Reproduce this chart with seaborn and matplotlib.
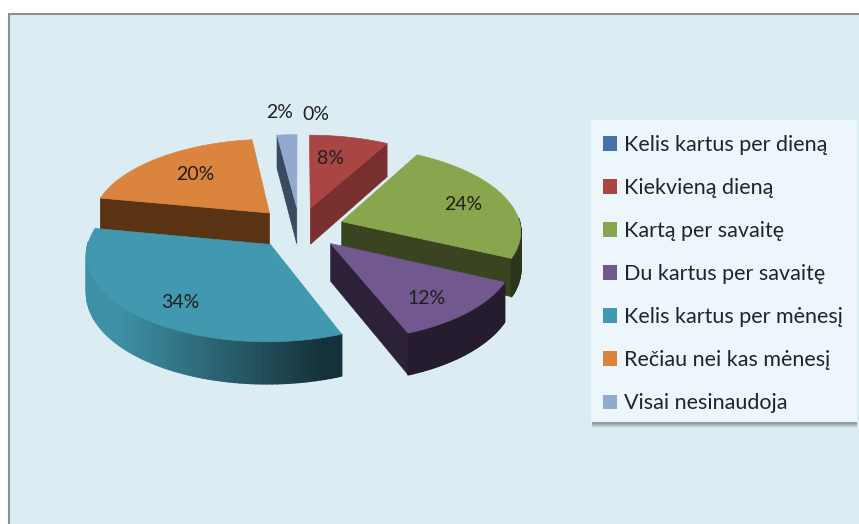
#!/usr/bin/env python3
"""Exploded 3D style pie chart with a side legend."""

import numpy as np
import matplotlib
matplotlib.use('Agg')
import matplotlib.pyplot as plt
import seaborn as sns
from matplotlib.patches import Patch, Rectangle, Polygon
from matplotlib.collections import PolyCollection

categories = ['Kelis kartus per dieną', 'Kiekvieną dieną', 'Kartą per savaitę',
              'Du kartus per savaitę', 'Kelis kartus per mėnesį',
              'Rečiau nei kas mėnesį', 'Visai nesinaudoja']
values = [0, 8, 24, 12, 34, 20, 2]
top_colors = ['#4472a6', '#a94643', '#89a54e', '#71588f', '#4198af', '#db843d', '#93a9cf']
wall_colors = ['#2c4a6c', '#7a2f2f', '#3a4420', '#2c2138', '#3f8ea8', '#5a3314', '#3a4a60']
label_pos = [(316, 115), (280, 112), (331, 158), (463, 205), (427, 298), (180, 302), (195, 174)]
label_text_order = [0, 6, 1, 2, 3, 4, 5]

# pie projection, pixels
CX, CY = 299.5, 228
RX, RY = 179, 84
K = 0.10
EXPLODE = 0.25
DEPTH = 37
# back to front
DRAW_ORDER = [6, 1, 5, 2, 3, 4]


def project(x, y):
    w = 1 + K * y
    return CX + RX * x / w, CY - RY * y / w, DEPTH / w


def edge(p0, p1, n=2):
    return np.linspace(p0[0], p1[0], n), np.linspace(p0[1], p1[1], n)


def wall_poly(xs, ys):
    sx, sy, d = project(np.asarray(xs), np.asarray(ys))
    top = np.column_stack([sx, sy])
    bottom = np.column_stack([sx, sy + d])[::-1]
    return np.vstack([top, bottom])


def draw_slice(ax, a0, a1, top, wall):
    mid = (a0 + a1) / 2
    ox, oy = EXPLODE * np.sin(mid), EXPLODE * np.cos(mid)
    theta = np.linspace(a0, a1, 80)
    arc_x = ox + np.sin(theta)
    arc_y = oy + np.cos(theta)

    # radial cut walls, only when they face the viewer
    if np.cos(a0 - np.pi / 2) < 0:
        xs, ys = edge((ox, oy), (arc_x[0], arc_y[0]))
        ax.add_patch(Polygon(wall_poly(xs, ys), closed=True, fc=wall, ec=wall, lw=0.5))
    if np.cos(a1 + np.pi / 2) < 0:
        xs, ys = edge((ox, oy), (arc_x[-1], arc_y[-1]))
        ax.add_patch(Polygon(wall_poly(xs, ys), closed=True, fc=wall, ec=wall, lw=0.5))

    # outer wall, shaded by position along the front
    front = np.cos(theta) < 0.05
    if front.any():
        fx, fy = arc_x[front], arc_y[front]
        sx, sy, d = project(fx, fy)
        quads = [[(sx[i], sy[i]), (sx[i + 1], sy[i + 1]),
                  (sx[i + 1], sy[i + 1] + d[i + 1]), (sx[i], sy[i] + d[i])]
                 for i in range(len(sx) - 1)]
        shade = np.clip((sx[:-1] - (CX - RX)) / (2 * RX), 0, 1)
        base = np.array(matplotlib.colors.to_rgb(top))
        cols = [base * (0.95 - 0.62 * min(s * 1.75, 1.0)) for s in shade]
        ax.add_collection(PolyCollection(quads, facecolors=cols, edgecolors=cols, linewidths=1.2))

    px = np.concatenate([[ox], arc_x])
    py = np.concatenate([[oy], arc_y])
    sx, sy, _ = project(px, py)
    ax.add_patch(Polygon(np.column_stack([sx, sy]), closed=True, fc=top, ec=top, lw=0.5))


def main():
    sns.set_theme(style='white')
    plt.rcParams['font.family'] = ['Lato', 'DejaVu Sans']

    fig = plt.figure(figsize=(8.59, 5.24), dpi=100, facecolor='white')
    ax = fig.add_axes([0, 0, 1, 1])
    ax.set_xlim(0, 859)
    ax.set_ylim(524, 0)
    ax.axis('off')

    ax.add_patch(Rectangle((8.5, 13.5), 860, 520, fc='#dbedf3', ec='#8f8f8f', lw=1.5))

    cuts = np.cumsum([0] + values) / sum(values) * 2 * np.pi
    for i in DRAW_ORDER:
        draw_slice(ax, cuts[i], cuts[i + 1], top_colors[i], wall_colors[i])

    for i, (x, y) in zip(label_text_order, label_pos):
        ax.text(x, y, f'{values[i]}%', ha='center', va='center',
                fontsize=14, color='#1f1f1f')

    # legend panel with soft shadow
    for off, alpha in [(6, 0.06), (5, 0.10), (4, 0.14), (3, 0.18), (2, 0.2)]:
        ax.add_patch(Rectangle((592, 122 + off), 265, 300, fc='#555555', ec='none', alpha=alpha))
    ax.add_patch(Rectangle((591, 120), 266, 302, fc='#edf6fa', ec='none'))

    handles = [Patch(fc=c, ec='none') for c in top_colors]
    ax.legend(handles, categories, loc='upper left', bbox_to_anchor=(588 / 859, 1 - 120 / 524),
              bbox_transform=fig.transFigure, frameon=False, fontsize=15.5,
              handlelength=0.65, handleheight=0.65, handletextpad=0.3,
              labelspacing=1.07, borderpad=0.2, labelcolor='#1f2430')

    fig.savefig('out.png', dpi=100)
    plt.close(fig)


if __name__ == '__main__':
    main()
